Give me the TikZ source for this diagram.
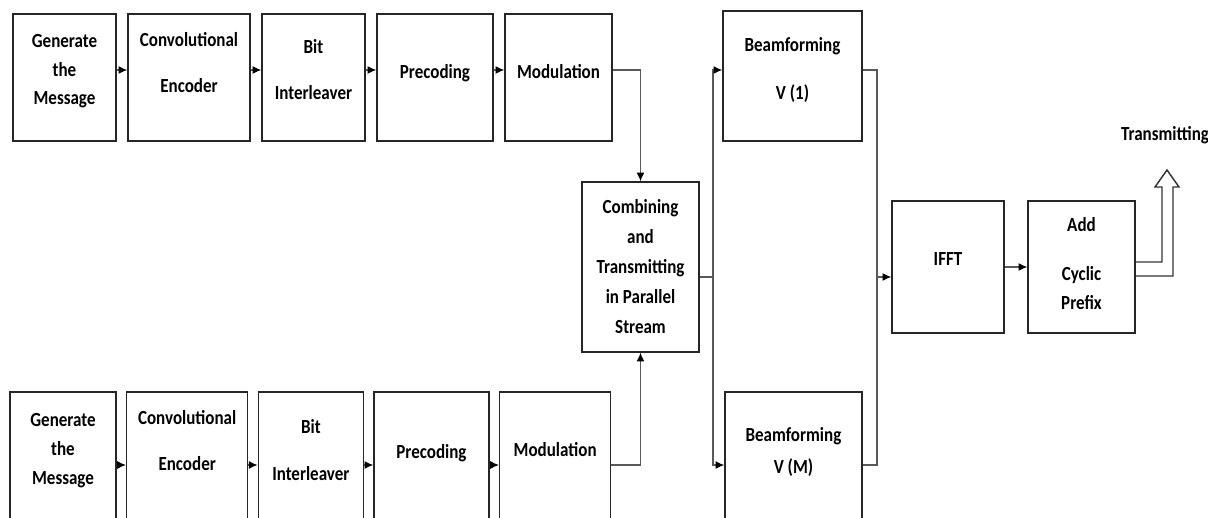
\documentclass[tikz,border=0pt]{standalone}
\usepackage{fontspec}
\setmainfont{Carlito}[FakeStretch=0.85]
\usetikzlibrary{positioning,arrows.meta}

\begin{document}
\begin{tikzpicture}[x=0.75pt,y=-0.75pt]
  \tikzset{block/.style={
      draw=black!85, line width=1.2pt, align=center, inner sep=0pt,
      font=\bfseries\fontsize{15}{21.5}\selectfont
    },
    toprow/.style={block, minimum height=95.25pt},
    botrow/.style={block, minimum height=97.5pt},
    link/.style={draw=black!65, line width=0.8pt},
    flow/.style={link, -{Latex[length=6.5pt,width=6pt,fill=black,color=black]}},
    hollow/.style={draw=black!80, line width=1.1pt, line join=miter}
  }
  \useasboundingbox (0,0) rectangle (1208,518);

  \coordinate (r1) at (0,70);
  \coordinate (r2) at (0,465);

  % first stream
  \node[toprow, minimum width=77.25pt] (gen1) at (64.5,77.5) {Generate\\the\\Message\\[-9.5pt]};
  \node[toprow, minimum width=91.5pt, right=7.8pt of gen1] (conv1) {Convolutional\\[13.5pt]Encoder\\[1pt]};
  \node[toprow, minimum width=77.25pt, right=7.8pt of conv1] (bit1) {Bit\\[13.5pt]Interleaver\\[-9.5pt]};
  \node[toprow, minimum width=87pt, right=7.8pt of bit1] (prec1) {Precoding\\[-11.75pt]};
  \node[toprow, minimum width=80.25pt, right=7.8pt of prec1] (mod1) {Modulation\\[-11.75pt]};

  % second stream
  \node[botrow, minimum width=79.5pt] (gen2) at (63,457) {Generate\\the\\Message\\[-9.5pt]};
  \node[botrow, minimum width=90.75pt, right=6.8pt of gen2] (conv2) {Convolutional\\[13.5pt]Encoder\\[3.25pt]};
  \node[botrow, minimum width=78.75pt, right=6.8pt of conv2] (bit2) {Bit\\[13.5pt]Interleaver\\[-11pt]};
  \node[botrow, minimum width=86.25pt, right=6.8pt of bit2] (prec2) {Precoding\\[-12.5pt]};
  \node[botrow, minimum width=83.25pt, right=6.8pt of prec2] (mod2) {Modulation\\[-9.5pt]};

  \node[block, minimum width=87.75pt, minimum height=127.5pt, font=\bfseries\fontsize{15}{22.5}\selectfont] (comb) at (640.5,267)
    {Combining\\and\\Transmitting\\in Parallel\\Stream};

  \node[block, minimum width=104.25pt, minimum height=97.5pt] (beam1) at (792.5,76) {Beamforming\\[15pt]V (1)\\[-10.25pt]};
  \node[block, minimum width=102.75pt, minimum height=97.5pt] (beamM) at (793.5,457) {Beamforming\\[2.5pt]V (M)\\[-11pt]};

  \node[block, minimum width=84pt, minimum height=99pt] (ifft) at (948,267) {IFFT\\[-9.5pt]};
  \node[block, minimum width=80.25pt, minimum height=99pt] (acp) at (1081.5,267) {Add\\[15pt]Cyclic\\Prefix\\[-16.25pt]};

  \node[font=\bfseries\fontsize{15}{17}\selectfont] (trans) at (1165,135) {Transmitting};

  \coordinate (split) at (713,277);
  \coordinate (merge) at (877,277);
  \coordinate (up) at (1167,170);

  \draw[flow] (gen1.east |- r1) -- (conv1.west |- r1);
  \draw[flow] (conv1.east |- r1) -- (bit1.west |- r1);
  \draw[flow] (bit1.east |- r1) -- (prec1.west |- r1);
  \draw[flow] (prec1.east |- r1) -- (mod1.west |- r1);

  \draw[flow] (gen2.east |- r2) -- (conv2.west |- r2);
  \draw[flow] (conv2.east |- r2) -- (bit2.west |- r2);
  \draw[flow] (bit2.east |- r2) -- (prec2.west |- r2);
  \draw[flow] (prec2.east |- r2) -- (mod2.west |- r2);

  \draw[flow] (mod1.east |- r1) -| (comb.north);
  \draw[flow] (mod2.east |- r2) -| (comb.south);

  \draw[link] (comb.east |- split) -- (split);
  \draw[flow] (split) |- (beam1.west |- r1);
  \draw[flow] (split) |- (beamM.west |- r2);

  \draw[link] (beam1.east |- r1) -| (merge);
  \draw[link] (beamM.east |- r2) -| (merge);
  \draw[flow] (merge) -- (ifft.west |- merge);

  \draw[flow] (ifft) -- (acp);

  \draw[hollow] (acp.east |- 0,262) -- (1162,262) -- (1162,187) -- (1155,187) -- (up)
    -- (1179,187) -- (1173,187) -- (1173,276) -- (acp.east |- 0,276);
\end{tikzpicture}
\end{document}
